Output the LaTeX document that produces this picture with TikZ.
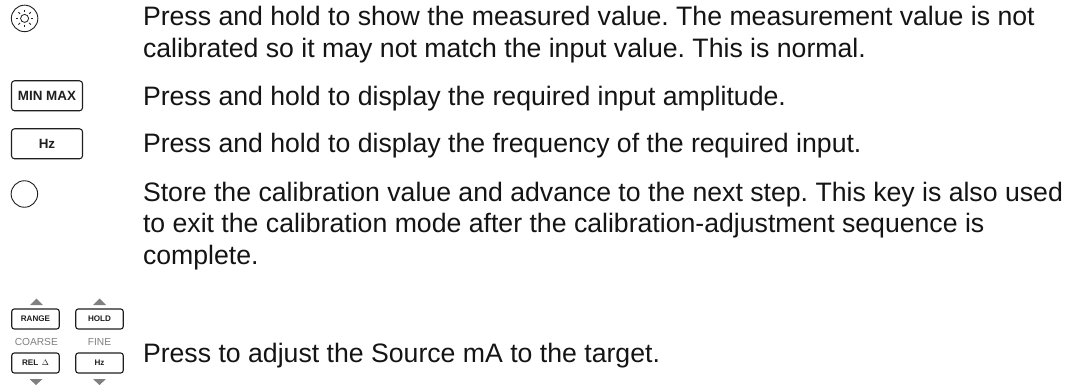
\documentclass[tikz,border=0pt]{standalone}
\usepackage{fontspec}
\setmainfont{Liberation Sans}
\usetikzlibrary{calc}
\frenchspacing
\begin{document}
\begin{tikzpicture}[x=1pt,y=-1pt,
  body/.style={anchor=base west,inner sep=0pt,outer sep=0pt,font=\frenchspacing\fontsize{26.65}{32}\selectfont,text=black!92},
  bigkey/.style={draw=black!88,line width=1.1pt,rounded corners=3pt,minimum width=71pt,minimum height=30pt,inner sep=0pt,font=\fontsize{13.4}{15}\bfseries\selectfont,text=black!88},
  smallkey/.style={draw=black!88,line width=1.1pt,rounded corners=2.5pt,minimum width=47.5pt,minimum height=20pt,inner sep=0pt,font=\fontsize{8.1}{10}\bfseries\selectfont,text=black!88},
  roundkey/.style={draw=black!88,line width=0.9pt,circle,minimum size=26.5pt,inner sep=0pt},
  graylabel/.style={inner sep=0pt,font=\fontsize{10.2}{12}\selectfont,text=black!50},
  tri/.style={fill=black!50,draw=none}]
\useasboundingbox (0,0) rectangle (1072,385);
\fill[white] (0,0) rectangle (1072,385);
% text
\node[body] (t1a) at (143,26) {Press and hold to show the measured value. The measurement value is not};
\node[body] (t1b) at (143,58) {calibrated so it may not match the input value. This is normal.};
\node[body] (t2) at (143,106) {Press and hold to display the required input amplitude.};
\node[body] (t3) at (143,153) {Press and hold to display the frequency of the required input.};
\node[body] (t4a) at (143,201) {Store the calibration value and advance to the next step. This key is also used};
\node[body] (t4b) at (143,233) {to exit the calibration mode after the calibration-adjustment sequence is};
\node[body] (t4c) at (143,265) {complete.};
\node[body] (t5) at (143,362) {Press to adjust the Source mA to the target.};
% keys
\node[roundkey] (sun) at (24.6,18.4) {};
\draw[black!88,line width=0.8pt] (sun.center) circle (4pt);
\foreach \a in {0,45,...,315}
  \draw[black!88,line width=0.8pt] ($(sun.center)+(\a:6.5pt)$) -- ($(sun.center)+(\a:8.7pt)$);
\node[bigkey] (minmax) at (47,95.8) {MIN MAX};
\node[bigkey] (hz) at (47,143.8) {Hz};
\node[roundkey] (store) at (24.4,194) {};
\node[smallkey] (range) at (35.5,319) {RANGE};
\node[smallkey] (hold) at (99.5,319) {HOLD};
\node[graylabel] (coarse) at (36.3,342) {COARSE};
\node[graylabel] (fine) at (99.5,342) {FINE};
\node[smallkey] (rel) at (35.5,363) {REL \,$\Delta$};
\node[smallkey] (hz2) at (99.5,363) {Hz};
\fill[tri] (30,305) -- (43,305) -- (36.5,298.5) -- cycle;
\fill[tri] (93,305) -- (106,305) -- (99.5,298.5) -- cycle;
\fill[tri] (29.5,379) -- (42.5,379) -- (36,385) -- cycle;
\fill[tri] (93,379) -- (106,379) -- (99.5,385) -- cycle;
\end{tikzpicture}
\end{document}
